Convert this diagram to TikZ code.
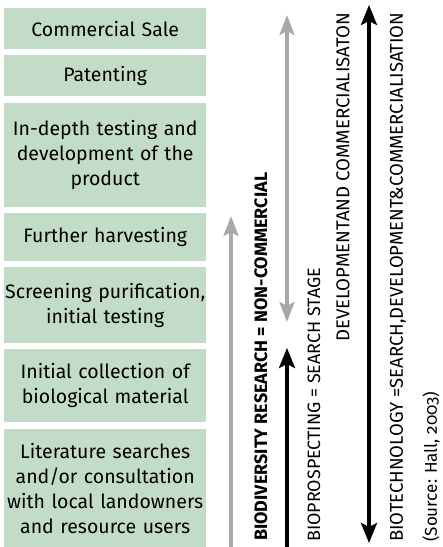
\documentclass[tikz,border=0pt]{standalone}
\usepackage{fontspec}
\setmainfont[Numbers=OldStyle]{Fira Sans}
\usetikzlibrary{arrows.meta}
\definecolor{boxgreen}{RGB}{195,220,200}
\definecolor{arrowgray}{RGB}{168,168,168}
\tikzset{
  stagebox/.style={fill=boxgreen, draw=none, anchor=north west, inner sep=0pt,
    minimum width=202pt, text width=201pt, align=center,
    font=\fontsize{19.5}{25}\selectfont},
  vlabel/.style={rotate=90, anchor=west, inner sep=0pt, font=\fontsize{16}{18}\selectfont},
  grayarrow/.style={draw=arrowgray, line width=3.5pt, -{Stealth[length=20pt,width=15pt,inset=4pt]}},
  blackarrow/.style={draw=black, line width=3.5pt, -{Stealth[length=20pt,width=16pt,inset=4pt]}},
}
\begin{document}
\begin{tikzpicture}[x=1pt,y=-1pt]
\useasboundingbox (0,0) rectangle (443,547);
\node[stagebox, minimum height=41pt] (b1) at (4,8) {Commercial Sale};
\node[stagebox, minimum height=41pt] (b2) at (4,55) {Patenting};
\node[stagebox, minimum height=104pt] (b3) at (4,103) {In-depth testing and\\development of the\\product};
\node[stagebox, minimum height=48pt] (b4) at (4,213) {Further harvesting};
\node[stagebox, minimum height=76pt] (b5) at (4,267) {Screening purification,\\initial testing};
\node[stagebox, minimum height=73pt] (b6) at (4,349) {Initial collection of\\biological material};
\node[stagebox, minimum height=118pt] (b7) at (4,429) {Literature searches\\and/or consultation\\with local landowners\\and resource users};

% arrows
\coordinate (g1s) at (231,547);
\coordinate (g1e) at (231,216);
\draw[grayarrow] (g1s) -- (g1e);
\coordinate (g2s) at (287,322);
\coordinate (g2e) at (287,15);
\draw[grayarrow, {Stealth[length=20pt,width=15pt,inset=4pt]}-{Stealth[length=20pt,width=15pt,inset=4pt]}] (g2s) -- (g2e);
\coordinate (k1s) at (287,547);
\coordinate (k1e) at (287,348);
\draw[blackarrow] (k1s) -- (k1e);
\coordinate (k2s) at (369,543);
\coordinate (k2e) at (369,5);
\draw[blackarrow, {Stealth[length=20pt,width=16pt,inset=4pt]}-{Stealth[length=20pt,width=16pt,inset=4pt]}] (k2s) -- (k2e);

% labels
\node[vlabel, font=\fontsize{16}{18}\selectfont\bfseries] (t1) at (261,541) {\resizebox{368pt}{!}{BIODIVERSITY RESEARCH = NON-COMMERCIAL}};
\node[vlabel] (t2) at (314,542) {\resizebox{274pt}{!}{BIOPROSPECTING = SEARCH STAGE}};
\node[vlabel] (t3) at (343,342) {\resizebox{329pt}{!}{DEVELOPMENTAND COMMERCIALISATON}};
\node[vlabel] (t4) at (398,542) {\resizebox{529pt}{!}{BIOTECHNOLOGY =SEARCH,DEVELOPMENT\&COMMERCIALISATION}};
\node[vlabel] (t5) at (431,542) {\resizebox{150pt}{!}{(Source: Hall, 2003)}};
\end{tikzpicture}
\end{document}
